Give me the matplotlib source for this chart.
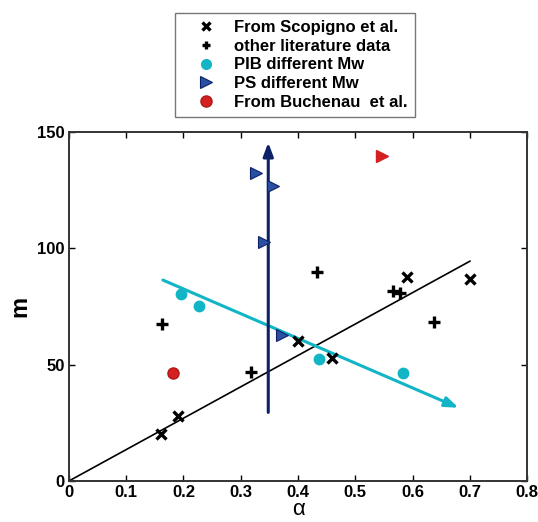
import matplotlib
matplotlib.use("Agg")
import matplotlib.pyplot as plt
from matplotlib.lines import Line2D

plt.rcParams['font.family'] = ['Liberation Sans', 'DejaVu Sans']

# Data
scop_x = [0.16, 0.19, 0.40, 0.46, 0.59, 0.70]
scop_m = [20, 28, 60, 53, 87.5, 87]
lit_x = [0.163, 0.318, 0.433, 0.565, 0.578, 0.638]
lit_m = [67.5, 46.8, 90, 81.5, 80.8, 68.3]
pib_x = [0.196, 0.227, 0.437, 0.583]
pib_m = [80.4, 75.2, 52.4, 46.4]
ps_x = [0.327, 0.356, 0.341, 0.372]
ps_m = [132.4, 126.8, 102.7, 62.7]
buch_circ_x = [0.182]
buch_circ_m = [46.4]
buch_tri_x = [0.546]
buch_tri_m = [139.5]
fit_x = [0.0, 0.70]
fit_m = [0.0, 94.5]
pib_arrow = [(0.164, 86.4), (0.68, 31.5)]
ps_arrow = [(0.348, 29.5), (0.348, 145.5)]

cyan = '#12b5c6'
navy = '#0d2266'
psface = '#2b4fa3'
red = '#d42020'

fig = plt.figure(figsize=(5.38, 5.22), dpi=100)
ax = fig.add_axes([0.128, 0.0785, 0.852, 0.6685])

ax.plot(fit_x, fit_m, color='black', lw=1.2, zorder=2)
ax.annotate('', xy=pib_arrow[1], xytext=pib_arrow[0],
            arrowprops=dict(arrowstyle='-|>,head_length=0.8,head_width=0.3', color=cyan, lw=2.2, shrinkA=0, shrinkB=0), zorder=3)
ax.annotate('', xy=ps_arrow[1], xytext=ps_arrow[0],
            arrowprops=dict(arrowstyle='-|>,head_length=0.8,head_width=0.3', color=navy, lw=2.2, shrinkA=0, shrinkB=0), zorder=3)

ax.plot(scop_x, scop_m, 'x', color='black', ms=7, mew=2.4, ls='none', zorder=4)
ax.plot(lit_x, lit_m, '+', color='black', ms=8, mew=2.4, ls='none', zorder=4)
ax.plot(pib_x, pib_m, 'o', color=cyan, mec=cyan, ms=7.5, ls='none', zorder=4)
ax.plot(ps_x, ps_m, '>', color=psface, mec=navy, mew=0.8, ms=8, ls='none', zorder=4)
ax.plot(buch_circ_x, buch_circ_m, 'o', color=red, mec='#b01818', ms=8, ls='none', zorder=4)
ax.plot(buch_tri_x, buch_tri_m, '>', color=red, mec=red, ms=9, ls='none', zorder=4)

ax.set_xlim(0, 0.8)
ax.set_ylim(0, 150)
ax.set_xticks([0, 0.1, 0.2, 0.3, 0.4, 0.5, 0.6, 0.7, 0.8])
ax.set_xticklabels(['0', '0.1', '0.2', '0.3', '0.4', '0.5', '0.6', '0.7', '0.8'])
ax.set_yticks([0, 50, 100, 150])
ax.tick_params(direction='in', top=True, right=True, length=4, width=1,
               labelsize=12, pad=3)
for lab in ax.get_xticklabels() + ax.get_yticklabels():
    lab.set_fontweight('bold')
for s in ax.spines.values():
    s.set_color('#333333')
    s.set_linewidth(1.4)

ax.set_xlabel('α', fontsize=16, labelpad=-1)
ax.set_ylabel('m', fontsize=17, fontweight='bold', labelpad=4)

handles = [
    Line2D([], [], marker='x', color='black', ls='none', ms=6, mew=2.4),
    Line2D([], [], marker='+', color='black', ls='none', ms=6, mew=2.4),
    Line2D([], [], marker='o', color=cyan, mec=cyan, ls='none', ms=7),
    Line2D([], [], marker='>', color=psface, mec=navy, mew=0.8, ls='none', ms=8),
    Line2D([], [], marker='o', color=red, mec='#b01818', ls='none', ms=8),
]
labels = ['From Scopigno et al.', 'other literature data', 'PIB different Mw',
          'PS different Mw', 'From Buchenau  et al.']
leg = fig.legend(handles, labels, loc='upper center', bbox_to_anchor=(0.548, 0.976),
                 frameon=True, fancybox=False, edgecolor='#555555',
                 prop={'weight': 'bold', 'size': 12}, handlelength=2.8,
                 handletextpad=0.3, labelspacing=0.22, borderpad=0.45, borderaxespad=0)
leg.get_frame().set_linewidth(1.0)

fig.savefig('out.png', dpi=100)
